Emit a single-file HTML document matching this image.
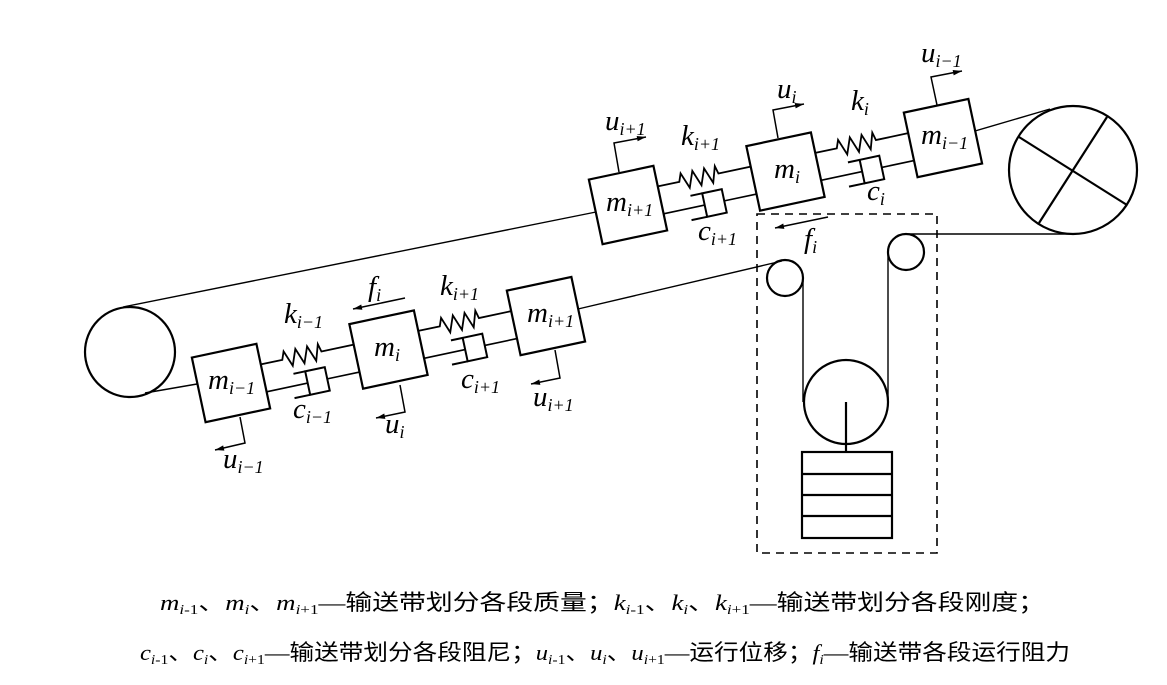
<!DOCTYPE html>
<html><head><meta charset="utf-8"><style>
html,body{margin:0;padding:0;background:#fff;}
svg{display:block;}
.cap{font-family:"Liberation Serif","Noto Sans CJK SC",serif;font-size:22px;fill:#000;}
</style></head><body>
<svg width="1167" height="685" viewBox="0 0 1167 685" xmlns="http://www.w3.org/2000/svg">
<defs>
<marker id="ah" viewBox="0 0 10 10" refX="10" refY="5" markerWidth="10" markerHeight="9" orient="auto" markerUnits="userSpaceOnUse"><path d="M0,2 L10,5 L0,8 z" fill="#000"/></marker>
<g id="gap" fill="none" stroke="#000" stroke-width="1.6">
<polyline points="0,-12 22,-12 25,-20 31,-4 37,-20 43,-4 49,-20 55,-4 60,-20 62,-12 95,-12" stroke-width="1.8"/>
<line x1="0" y1="16" x2="42" y2="16"/>
<rect x="42" y="4" width="20" height="24" stroke-width="2"/>
<line x1="30" y1="4" x2="42" y2="4" stroke-width="2"/>
<line x1="26" y1="28" x2="42" y2="28" stroke-width="2"/>
<line x1="62" y1="16" x2="95" y2="16"/>
</g>
<g id="chain">
<rect x="-33" y="-33" width="66" height="66" fill="#fff" stroke="#000" stroke-width="2.2"/>
<rect x="128" y="-33" width="66" height="66" fill="#fff" stroke="#000" stroke-width="2.2"/>
<rect x="289" y="-33" width="66" height="66" fill="#fff" stroke="#000" stroke-width="2.2"/>
<use href="#gap" x="33"/>
<use href="#gap" x="194"/>
</g>
</defs>
<g fill="none" stroke="#000" stroke-width="1.4">
<line x1="123" y1="307" x2="596" y2="212"/>
<line x1="145" y1="393" x2="197" y2="384"/>
<line x1="975" y1="131" x2="1050" y2="109"/>
<line x1="578" y1="309" x2="782" y2="261"/>
<line x1="906" y1="234" x2="1073" y2="234"/>
<line x1="803" y1="278" x2="803" y2="402"/>
<line x1="888" y1="252" x2="888" y2="402"/>
</g>
<g fill="none" stroke="#000" stroke-width="2.2">
<circle cx="130" cy="352" r="45"/>
<circle cx="1073" cy="170" r="64"/>
<line x1="1107" y1="117" x2="1039" y2="223"/>
<line x1="1019" y1="137" x2="1127" y2="205"/>
<circle cx="785" cy="278" r="18"/>
<circle cx="906" cy="252" r="18"/>
<circle cx="846" cy="402" r="42"/>
<line x1="846" y1="402" x2="846" y2="452"/>
<rect x="802" y="452" width="90" height="86"/>
<line x1="802" y1="474" x2="892" y2="474"/>
<line x1="802" y1="495" x2="892" y2="495"/>
<line x1="802" y1="516" x2="892" y2="516"/>
</g>
<rect x="757" y="214" width="180" height="339" fill="none" stroke="#000" stroke-width="1.6" stroke-dasharray="8,6"/>
<use href="#chain" transform="translate(628,205) rotate(-12)"/>
<use href="#chain" transform="translate(231,383) rotate(-12)"/>
<g fill="none" stroke="#000" stroke-width="1.5">
<polyline points="619,172 614,143 646,137" marker-end="url(#ah)"/>
<polyline points="778,138 773,110 804,104" marker-end="url(#ah)"/>
<polyline points="937,105 931,77 962,71" marker-end="url(#ah)"/>
<polyline points="240,417 245,443 215,450" marker-end="url(#ah)"/>
<polyline points="400,385 405,412 376,418" marker-end="url(#ah)"/>
<polyline points="555,350 560,378 531,384" marker-end="url(#ah)"/>
<line x1="828" y1="217" x2="775" y2="228" marker-end="url(#ah)"/>
<line x1="405" y1="298" x2="353" y2="309" marker-end="url(#ah)"/>
</g>
<g font-family="Liberation Serif, serif" font-style="italic" font-size="29" fill="#000" style="font-family:'Liberation Serif',serif;font-style:italic">
<text x="605" y="130">u<tspan font-size="18" dy="5">i+1</tspan></text>
<text x="681" y="145">k<tspan font-size="18" dy="5">i+1</tspan></text>
<text x="777" y="98">u<tspan font-size="18" dy="5">i</tspan></text>
<text x="851" y="110">k<tspan font-size="18" dy="5">i</tspan></text>
<text x="921" y="62">u<tspan font-size="18" dy="5">i−1</tspan></text>
<text x="606" y="211">m<tspan font-size="18" dy="5">i+1</tspan></text>
<text x="774" y="178">m<tspan font-size="18" dy="5">i</tspan></text>
<text x="921" y="144">m<tspan font-size="18" dy="5">i−1</tspan></text>
<text x="698" y="240">c<tspan font-size="18" dy="5">i+1</tspan></text>
<text x="867" y="200">c<tspan font-size="18" dy="5">i</tspan></text>
<text x="804" y="248">f<tspan font-size="18" dy="5">i</tspan></text>
<text x="368" y="296">f<tspan font-size="18" dy="5">i</tspan></text>
<text x="284" y="323">k<tspan font-size="18" dy="5">i−1</tspan></text>
<text x="440" y="295">k<tspan font-size="18" dy="5">i+1</tspan></text>
<text x="208" y="389">m<tspan font-size="18" dy="5">i−1</tspan></text>
<text x="374" y="356">m<tspan font-size="18" dy="5">i</tspan></text>
<text x="527" y="322">m<tspan font-size="18" dy="5">i+1</tspan></text>
<text x="293" y="418">c<tspan font-size="18" dy="5">i−1</tspan></text>
<text x="385" y="433">u<tspan font-size="18" dy="5">i</tspan></text>
<text x="461" y="388">c<tspan font-size="18" dy="5">i+1</tspan></text>
<text x="533" y="406">u<tspan font-size="18" dy="5">i+1</tspan></text>
<text x="223" y="468">u<tspan font-size="18" dy="5">i−1</tspan></text>
</g>
<text class="cap" x="160" y="610" textLength="885" lengthAdjust="spacingAndGlyphs"><tspan font-style="italic">m</tspan><tspan font-size="14" dy="4" font-style="italic">i</tspan><tspan font-size="14">-1</tspan><tspan dy="-4">、</tspan><tspan font-style="italic">m</tspan><tspan font-size="14" dy="4" font-style="italic">i</tspan><tspan dy="-4">、</tspan><tspan font-style="italic">m</tspan><tspan font-size="14" dy="4" font-style="italic">i</tspan><tspan font-size="14">+1</tspan><tspan dy="-4">—输送带划分各段质量；</tspan><tspan font-style="italic">k</tspan><tspan font-size="14" dy="4" font-style="italic">i</tspan><tspan font-size="14">-1</tspan><tspan dy="-4">、</tspan><tspan font-style="italic">k</tspan><tspan font-size="14" dy="4" font-style="italic">i</tspan><tspan dy="-4">、</tspan><tspan font-style="italic">k</tspan><tspan font-size="14" dy="4" font-style="italic">i</tspan><tspan font-size="14">+1</tspan><tspan dy="-4">—输送带划分各段刚度；</tspan></text>
<text class="cap" x="140" y="660" textLength="930" lengthAdjust="spacingAndGlyphs"><tspan font-style="italic">c</tspan><tspan font-size="14" dy="4" font-style="italic">i</tspan><tspan font-size="14">-1</tspan><tspan dy="-4">、</tspan><tspan font-style="italic">c</tspan><tspan font-size="14" dy="4" font-style="italic">i</tspan><tspan dy="-4">、</tspan><tspan font-style="italic">c</tspan><tspan font-size="14" dy="4" font-style="italic">i</tspan><tspan font-size="14">+1</tspan><tspan dy="-4">—输送带划分各段阻尼；</tspan><tspan font-style="italic">u</tspan><tspan font-size="14" dy="4" font-style="italic">i</tspan><tspan font-size="14">-1</tspan><tspan dy="-4">、</tspan><tspan font-style="italic">u</tspan><tspan font-size="14" dy="4" font-style="italic">i</tspan><tspan dy="-4">、</tspan><tspan font-style="italic">u</tspan><tspan font-size="14" dy="4" font-style="italic">i</tspan><tspan font-size="14">+1</tspan><tspan dy="-4">—运行位移；</tspan><tspan font-style="italic">f</tspan><tspan font-size="14" dy="4" font-style="italic">i</tspan><tspan dy="-4">—输送带各段运行阻力</tspan></text>
</svg>
</body></html>
